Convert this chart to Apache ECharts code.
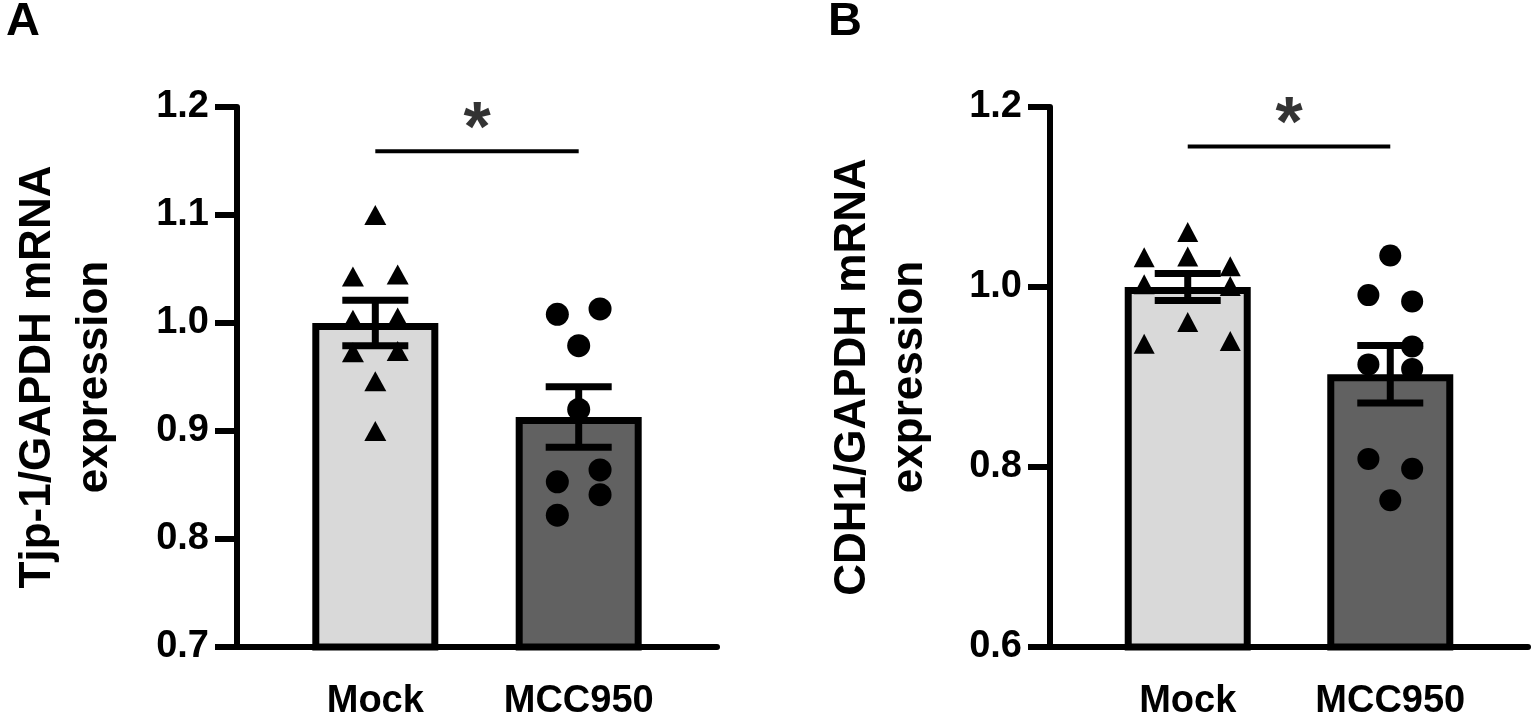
<!DOCTYPE html>
<html>
<head>
<meta charset="utf-8">
<title>Tjp-1 / CDH1 mRNA expression</title>
<script src="https://cdn.jsdelivr.net/npm/echarts@6/dist/echarts.min.js"></script>
<style>
  html, body { margin: 0; padding: 0; background: #fff; }
  #chart { width: 1535px; height: 721px; }
</style>
</head>
<body>
<div id="chart"></div>
<script>
// groups on the x axis (value positions 1 and 2)
const groups = ['Mock', 'MCC950'];

// panel A: Tjp-1/GAPDH
const tjpMean = [1.000, 0.913];
const tjpSem = [0.021, 0.028];
const tjpMock = [1.100, 1.043, 1.045, 1.003, 1.005, 0.973, 0.974, 0.946, 0.900];
const tjpMockX = [1.00, 0.89, 1.11, 0.89, 1.11, 0.89, 1.11, 1.00, 1.00];
const tjpMcc = [1.008, 1.013, 0.979, 0.920, 0.864, 0.853, 0.841, 0.822];
const tjpMccX = [1.895, 2.105, 2.00, 2.00, 2.105, 1.895, 2.105, 1.895];
const tjpTicks = [0.7, 1.2, 0.1];
const tjpSig = 1.159;

// panel B: CDH1/GAPDH
const cdhMean = [1.000, 0.903];
const cdhSem = [0.015, 0.032];
const cdhMock = [1.061, 1.034, 1.033, 1.023, 1.003, 1.001, 0.961, 0.937, 0.940];
const cdhMockX = [1.00, 1.00, 0.785, 1.21, 0.785, 1.21, 1.00, 0.785, 1.21];
const cdhMcc = [1.035, 0.991, 0.984, 0.934, 0.914, 0.909, 0.809, 0.798, 0.763];
const cdhMccX = [2.00, 1.892, 2.108, 2.108, 1.892, 2.108, 1.892, 2.108, 2.00];
const cdhTicks = [0.6, 1.2, 0.2];
const cdhSig = 1.156;

const FONT = '"Liberation Sans", Arial, Helvetica, sans-serif';
const barColors = ['#d9d9d9', '#616161'];

const chart = echarts.init(document.getElementById('chart'), null, { renderer: 'canvas' });

const zip = (xs, ys) => xs.map((x, i) => [x, ys[i]]);

const makeXAxis = (gridIndex) => ({
  type: 'value',
  gridIndex,
  min: 0.32,
  max: 2.68,
  splitLine: { show: false },
  axisTick: { show: false },
  axisLine: { show: true, lineStyle: { color: '#000', width: 6 } },
  axisLabel: {
    customValues: [1, 2],
    formatter: (v) => groups[Math.round(v) - 1] || '',
    color: '#000',
    fontFamily: FONT,
    fontWeight: 'bold',
    fontSize: 38,
    margin: 36
  }
});

const makeYAxis = (gridIndex, ticks, name, gap) => ({
  type: 'value',
  gridIndex,
  min: ticks[0],
  max: ticks[1],
  interval: ticks[2],
  name,
  nameLocation: 'middle',
  nameGap: gap,
  nameTextStyle: {
    color: '#000',
    fontFamily: FONT,
    fontWeight: 'bold',
    fontSize: 44,
    lineHeight: 57
  },
  splitLine: { show: false },
  axisLine: { show: true, lineStyle: { color: '#000', width: 6 } },
  axisTick: { show: true, length: 22, lineStyle: { color: '#000', width: 6 } },
  axisLabel: {
    formatter: (v) => v.toFixed(1),
    color: '#000',
    fontFamily: FONT,
    fontWeight: 'bold',
    fontSize: 38,
    margin: 28
  }
});

const renderErrorBar = (params, api) => {
  const x = api.value(0);
  const mean = api.value(1);
  const sem = api.value(2);
  const top = api.coord([x, mean + sem]);
  const bot = api.coord([x, mean - sem]);
  const half = 33;
  const style = { stroke: '#000', lineWidth: 7 };
  return {
    type: 'group',
    children: [
      { type: 'line', shape: { x1: top[0], y1: top[1], x2: bot[0], y2: bot[1] }, style },
      { type: 'line', shape: { x1: top[0] - half, y1: top[1], x2: top[0] + half, y2: top[1] }, style },
      { type: 'line', shape: { x1: bot[0] - half, y1: bot[1], x2: bot[0] + half, y2: bot[1] }, style }
    ]
  };
};

const makeSeries = (axisIndex, means, sems, mockY, mockX, mccY, mccX, sig, triSize, dotSize) => [
  {
    type: 'bar',
    xAxisIndex: axisIndex,
    yAxisIndex: axisIndex,
    barWidth: 126,
    z: 2,
    data: means.map((m, i) => ({
      value: [i + 1, m],
      itemStyle: { color: barColors[i], borderColor: '#000', borderWidth: 7 }
    }))
  },
  {
    type: 'scatter',
    xAxisIndex: axisIndex,
    yAxisIndex: axisIndex,
    symbol: 'triangle',
    symbolSize: triSize,
    itemStyle: { color: '#000', opacity: 1 },
    z: 3,
    data: zip(mockX, mockY)
  },
  {
    type: 'scatter',
    xAxisIndex: axisIndex,
    yAxisIndex: axisIndex,
    symbol: 'circle',
    symbolSize: dotSize,
    itemStyle: { color: '#000', opacity: 1 },
    z: 3,
    data: zip(mccX, mccY)
  },
  {
    type: 'custom',
    xAxisIndex: axisIndex,
    yAxisIndex: axisIndex,
    z: 4,
    renderItem: renderErrorBar,
    data: means.map((m, i) => [i + 1, m, sems[i]])
  },
  {
    type: 'line',
    xAxisIndex: axisIndex,
    yAxisIndex: axisIndex,
    symbol: 'none',
    lineStyle: { color: '#000', width: 4 },
    z: 4,
    data: [[1, sig], [2, sig]]
  },
  {
    type: 'scatter',
    xAxisIndex: axisIndex,
    yAxisIndex: axisIndex,
    symbolSize: 0,
    z: 4,
    label: {
      show: true,
      position: 'top',
      distance: -15,
      formatter: '*',
      color: '#000',
      fontFamily: FONT,
      fontWeight: 'bold',
      fontSize: 70
    },
    data: [[1.5, sig]]
  }
];

const option = {
  backgroundColor: '#fff',
  animation: false,
  title: [
    { text: 'A', left: 1, top: -6, textStyle: { fontFamily: FONT, fontWeight: 'bold', fontSize: 47, color: '#000' } },
    { text: 'B', left: 823, top: -6, textStyle: { fontFamily: FONT, fontWeight: 'bold', fontSize: 47, color: '#000' } }
  ],
  grid: [
    { left: 237, right: 818, top: 107, bottom: 72 },
    { left: 1050, right: 7, top: 107, bottom: 72 }
  ],
  xAxis: [makeXAxis(0), makeXAxis(1)],
  yAxis: [
    makeYAxis(0, tjpTicks, 'Tjp-1/GAPDH mRNA\nexpression', 114),
    makeYAxis(1, cdhTicks, 'CDH1/GAPDH mRNA\nexpression', 112)
  ],
  series: [
    ...makeSeries(0, tjpMean, tjpSem, tjpMock, tjpMockX, tjpMcc, tjpMccX, tjpSig, [22, 20], 23),
    ...makeSeries(1, cdhMean, cdhSem, cdhMock, cdhMockX, cdhMcc, cdhMccX, cdhSig, [21, 20], 22)
  ]
};

chart.setOption(option);
window.addEventListener('resize', () => chart.resize());
</script>
</body>
</html>
